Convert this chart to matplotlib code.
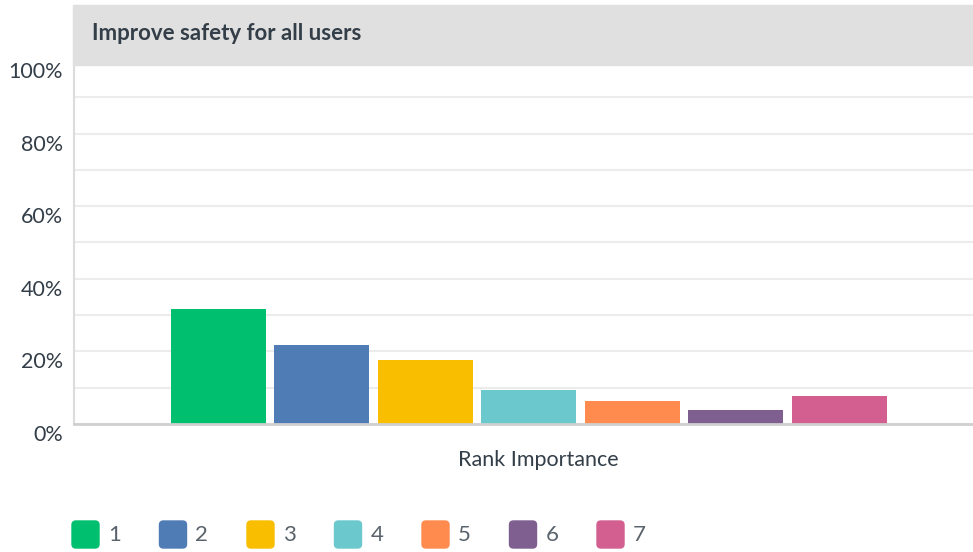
import matplotlib.pyplot as plt
from matplotlib.patches import FancyBboxPatch, Rectangle
from matplotlib.transforms import offset_copy
import numpy as np

# --- Data ---
title = "Improve safety for all users"
ranks = ["1", "2", "3", "4", "5", "6", "7"]
shares = [31.7, 21.8, 17.6, 9.4, 6.3, 3.9, 7.7]
colors = ["#00bf6f", "#507cb6", "#f9be00", "#6bc8cd", "#ff8b4f", "#7f5f90", "#d25f90"]
ytick_vals = [0, 20, 40, 60, 80, 100]
ytick_labels = ["0%", "20%", "40%", "60%", "80%", "100%"]

plt.rcParams['font.family'] = ['Lato', 'DejaVu Sans']
text_color = "#333e48"

W, H = 973, 552
fig = plt.figure(figsize=(W / 100, H / 100), dpi=100)
ax = fig.add_axes([74 / W, (H - 424) / H, (W - 74) / W, (424 - 61) / H])

x = np.arange(len(ranks))
ax.bar(x, shares, width=0.918, color=colors, zorder=3)
ax.set_xlim(-1.396, 7.29)
ax.set_ylim(0, 100)

# gridlines every 10%
ax.set_yticks(np.arange(0, 101, 10))
ax.yaxis.grid(True, color="#ececec", linewidth=1.5, zorder=0)
ax.tick_params(axis="both", length=0, labelleft=False, labelbottom=False)
ax.set_xticks([])
for side in ["top", "right"]:
    ax.spines[side].set_visible(False)
ax.spines["left"].set_color("#dcdcdc")
ax.spines["left"].set_linewidth(1.5)
ax.spines["bottom"].set_color("#d0d0d0")
ax.spines["bottom"].set_linewidth(2)
ax.spines["bottom"].set_zorder(4)

# y labels sit just below their gridline
lbl_tr = offset_copy(ax.get_yaxis_transform(), fig=fig, x=-11, y=-11, units="dots")
for v, s in zip(ytick_vals, ytick_labels):
    ax.text(0, v, s, transform=lbl_tr, ha="right", va="center",
            fontsize=15.5, color=text_color)

ax.text(0.516, -0.1, "Rank Importance", transform=ax.transAxes, ha="center",
        va="center", fontsize=15.5, color=text_color)

# header band
fig.patches.append(Rectangle((73 / W, (H - 65) / H), (W - 73) / W, 60 / H,
                             transform=fig.transFigure, color="#e0e0e0", zorder=5))
fig.text(92 / W, (H - 33) / H, title, ha="left", va="center", fontsize=16,
         fontweight="bold", color=text_color, zorder=6)

# legend
for i, (r, c) in enumerate(zip(ranks, colors)):
    x0 = 72 + i * 87.5
    fig.patches.append(FancyBboxPatch((x0 / W, (H - 548) / H), 27 / W, 27 / H,
                                      boxstyle="round,pad=0,rounding_size=0.004",
                                      transform=fig.transFigure, color=c,
                                      mutation_aspect=W / H))
    fig.text((x0 + 36) / W, (H - 535) / H, r, ha="left", va="center",
             fontsize=16, color="#5a636b")

fig.savefig("out.png", dpi=100)
